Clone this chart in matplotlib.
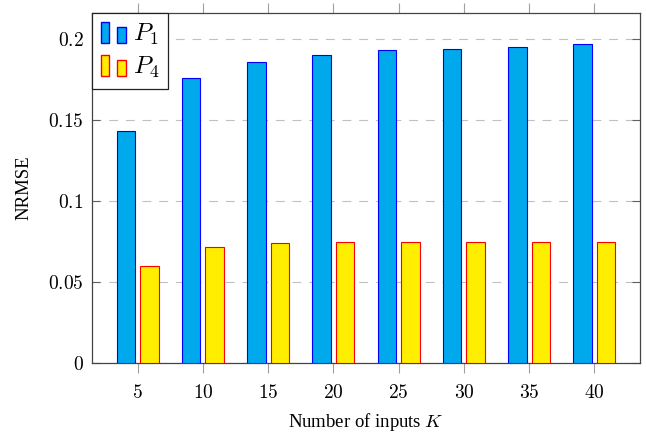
import matplotlib
matplotlib.use("Agg")
from matplotlib import pyplot as plt
from matplotlib.patches import Rectangle
from matplotlib.legend_handler import HandlerBase

plt.rcParams['font.family'] = ['Liberation Serif', 'DejaVu Serif']
plt.rcParams['mathtext.fontset'] = 'cm'

K = [5, 10, 15, 20, 25, 30, 35, 40]
p1 = [0.143, 0.176, 0.186, 0.190, 0.193, 0.194, 0.195, 0.197]
p4 = [0.060, 0.0714, 0.0739, 0.0745, 0.0748, 0.0749, 0.0749, 0.0749]
yticks = [0, 0.05, 0.1, 0.15, 0.2]
ytick_labels = ['$0$', '$0.05$', '$0.1$', '$0.15$', '$0.2$']
xtick_labels = ['$%d$' % k for k in K]

blue_fill = '#00A8EC'
yellow_fill = '#FFEE00'


class TwoBars(HandlerBase):
    # pgfplots style ybar legend: two small bars, second one shorter
    def create_artists(self, legend, orig_handle, xdescent, ydescent,
                       width, height, fontsize, trans):
        bw = width * 0.34
        arts = []
        for x0, h in ((0, 1.0), (width * 0.66, 0.77)):
            r = Rectangle((x0 - xdescent, -ydescent), bw, height * h,
                          facecolor=orig_handle.get_facecolor(),
                          edgecolor=orig_handle.get_edgecolor(), lw=1.0,
                          transform=trans)
            arts.append(r)
        return arts


fig = plt.figure(figsize=(6.46, 4.33), dpi=100)
ax = fig.add_axes([0.1424, 0.1617, 0.8483, 0.8083])

w = 1.43
off = 0.9
b1 = ax.bar([k - off for k in K], p1, width=w, color=blue_fill, edgecolor='blue', lw=0.8, zorder=3)
b4 = ax.bar([k + off for k in K], p4, width=w, color=yellow_fill, edgecolor='red', lw=0.8, zorder=3)

ax.set_xlim(1.5, 43.5)
ax.set_ylim(0, 0.216)
ax.set_xticks(K)
ax.set_xticklabels(xtick_labels)
ax.set_yticks(yticks)
ax.set_yticklabels(ytick_labels)
ax.yaxis.grid(True, linestyle=(0, (8, 7)), color='#c0c0c0', lw=0.8, zorder=0)
ax.tick_params(axis='x', direction='out', length=7, width=0.8, color='#a0a0a0', top=True, labelsize=14, pad=8)
ax.tick_params(axis='y', direction='in', length=6, width=0.8, color='#606060', right=True, labelsize=14, pad=6)
for s in ax.spines.values():
    s.set_color('#444444')
    s.set_linewidth(0.9)

ax.set_xlabel('Number of inputs $K$', fontsize=13.5)
ax.set_ylabel('NRMSE', fontsize=13.5)
ax.xaxis.set_label_coords(0.5, -0.137)
ax.yaxis.set_label_coords(-0.108, 0.5)

leg = ax.legend([b1[0], b4[0]], ['$P_1$', '$P_4$'], loc='upper left',
                handler_map={b1[0]: TwoBars(), b4[0]: TwoBars()},
                fontsize=18, fancybox=False, edgecolor='#222222', framealpha=1,
                borderaxespad=0, handlelength=1.0, handleheight=0.95,
                handletextpad=0.3, borderpad=0.35, labelspacing=0.3)
leg.get_frame().set_linewidth(0.9)
leg.set_zorder(5)

plt.savefig('out.png', dpi=100)
